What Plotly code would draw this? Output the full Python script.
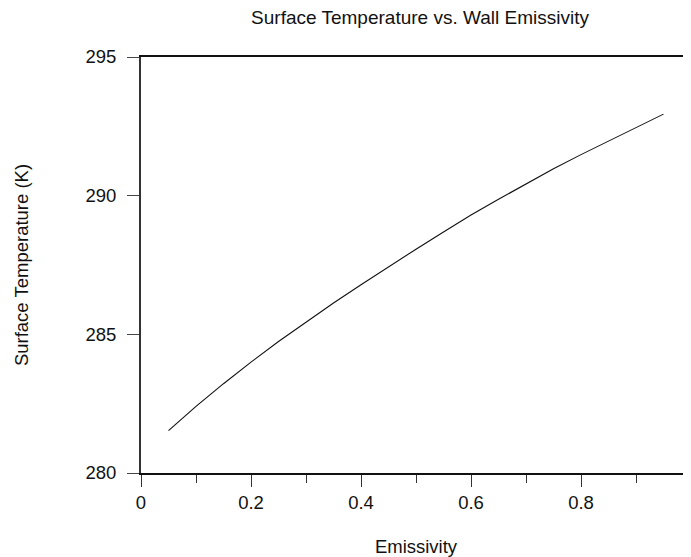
import plotly.graph_objects as go

emissivity = [0.05, 0.10, 0.15, 0.20, 0.25, 0.30, 0.35, 0.40, 0.45, 0.50,
              0.55, 0.60, 0.65, 0.70, 0.75, 0.80, 0.85, 0.90, 0.95]
surface_temp = [281.53, 282.40, 283.22, 284.00, 284.74, 285.45, 286.13, 286.79,
                287.44, 288.07, 288.69, 289.30, 289.87, 290.43, 290.97, 291.48,
                291.97, 292.45, 292.94]

x_ticks = [0, 0.2, 0.4, 0.6, 0.8, 1]
y_ticks = [280, 285, 290, 295]

FONT = "Liberation Sans, Arial, sans-serif"
OFF = 8  # page body margin

fig = go.Figure()
fig.add_trace(go.Scatter(
    x=emissivity, y=surface_temp, mode="lines",
    line=dict(color="#111111", width=1.1),
    showlegend=False, hoverinfo="skip",
))

W, H = 691 - OFF, 557 - OFF
fig.update_layout(
    width=W, height=H,
    margin=dict(l=141 - OFF, r=0, t=57 - OFF, b=84, autoexpand=False),
    paper_bgcolor="white", plot_bgcolor="white",
    font=dict(family=FONT, size=18.5, color="#111111"),
    title=dict(text="Surface Temperature vs. Wall Emissivity",
               x=(420 - OFF) / W, xref="container", xanchor="center",
               y=1 - (17 - OFF) / H, yref="container", yanchor="middle",
               font=dict(family=FONT, size=19, color="#111111")),
)

fig.update_xaxes(
    range=[0, 1], tickvals=x_ticks, ticktext=[f"{v:g}" for v in x_ticks],
    showgrid=False, zeroline=False,
    showline=True, linecolor="#111111", linewidth=1.8, mirror=True,
    ticks="outside", ticklen=12, tickwidth=1, tickcolor="#333333",
    minor=dict(dtick=0.1, ticks="outside", ticklen=8, tickwidth=1, tickcolor="#333333"),
    ticklabelstandoff=0,
    title=dict(text="Emissivity", standoff=28, font=dict(size=18.5)),
    automargin=False,
)
fig.update_yaxes(
    range=[280, 295], tickvals=y_ticks,
    showgrid=False, zeroline=False,
    showline=True, linecolor="#333333", linewidth=2,
    ticks="outside", ticklen=12, tickwidth=1, tickcolor="#444444",
    ticklabelstandoff=7,
    title=dict(text="Surface Temperature (K)", standoff=52, font=dict(size=18.5)),
    automargin=False,
)

# the last tick label sits on the page edge and is hidden by plotly; draw it explicitly
fig.add_annotation(
    x=x_ticks[-1], xref="x", y=0, yref="paper",
    text=f"{x_ticks[-1]:g}", showarrow=False,
    xanchor="center", yanchor="middle", yshift=-29, xshift=-2,
    font=dict(family=FONT, size=18.5, color="#111111"),
)

fig.write_html("out.html")
